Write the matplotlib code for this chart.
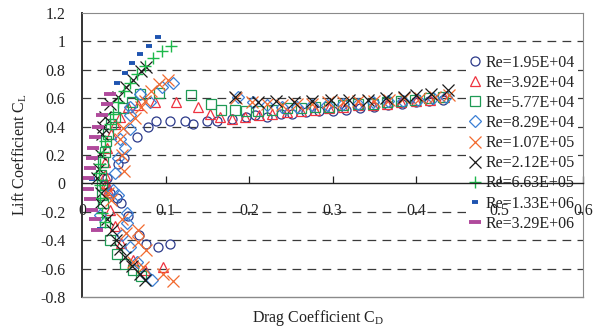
import matplotlib
matplotlib.use("Agg")
import matplotlib.pyplot as plt

plt.rcParams['font.family'] = ['Liberation Serif', 'DejaVu Serif']
plt.rcParams['mathtext.fontset'] = 'custom'
plt.rcParams['mathtext.rm'] = 'Liberation Serif'

labels = ["Re=1.95E+04", "Re=3.92E+04", "Re=5.77E+04", "Re=8.29E+04", "Re=1.07E+05",
          "Re=2.12E+05", "Re=6.63E+05", "Re=1.33E+06", "Re=3.29E+06"]

cd1 = [0.030, 0.043, 0.050, 0.066, 0.079, 0.089, 0.105, 0.123, 0.133, 0.150, 0.162,
       0.180, 0.196, 0.207, 0.222, 0.238, 0.252, 0.268, 0.284, 0.300, 0.316, 0.333, 0.350,
       0.366, 0.383, 0.400, 0.416, 0.432,
       0.026, 0.034, 0.042, 0.047, 0.055, 0.068, 0.077, 0.091, 0.105]
cl1 = [0.04, 0.14, 0.18, 0.33, 0.40, 0.44, 0.44, 0.44, 0.42, 0.44, 0.44,
       0.45, 0.47, 0.48, 0.47, 0.49, 0.49, 0.50, 0.51, 0.51, 0.52, 0.53, 0.54,
       0.55, 0.56, 0.57, 0.58, 0.59,
       -0.01, -0.07, -0.10, -0.14, -0.23, -0.36, -0.43, -0.45, -0.43]

cd2 = [0.029, 0.028, 0.027, 0.030, 0.035, 0.039, 0.045, 0.055, 0.067, 0.087, 0.113,
       0.139, 0.153, 0.165, 0.180, 0.195, 0.212, 0.228, 0.245, 0.262, 0.279, 0.296, 0.313,
       0.330, 0.348, 0.365, 0.382, 0.400, 0.417, 0.433,
       0.030, 0.031, 0.034, 0.040, 0.047, 0.061, 0.075, 0.097]
cl2 = [0.00, 0.06, 0.15, 0.25, 0.35, 0.42, 0.47, 0.54, 0.55, 0.57, 0.57,
       0.54, 0.49, 0.47, 0.45, 0.47, 0.48, 0.49, 0.50, 0.51, 0.52, 0.53, 0.54,
       0.55, 0.55, 0.56, 0.57, 0.58, 0.59, 0.61,
       -0.01, -0.05, -0.19, -0.30, -0.42, -0.54, -0.61, -0.59]

cd3 = [0.023, 0.025, 0.027, 0.029, 0.031, 0.035, 0.040, 0.049, 0.060, 0.069, 0.092,
       0.131, 0.154, 0.166, 0.183, 0.196, 0.211, 0.228, 0.245, 0.262, 0.279, 0.296, 0.313,
       0.330, 0.348, 0.365, 0.382, 0.399, 0.416, 0.432,
       0.024, 0.024, 0.025, 0.028, 0.033, 0.042, 0.051, 0.061, 0.071]
cl3 = [0.06, 0.15, 0.22, 0.30, 0.35, 0.42, 0.47, 0.53, 0.57, 0.63, 0.64,
       0.62, 0.56, 0.52, 0.52, 0.51, 0.51, 0.52, 0.53, 0.53, 0.54, 0.54, 0.55,
       0.56, 0.56, 0.57, 0.58, 0.59, 0.60, 0.61,
       -0.01, -0.08, -0.14, -0.27, -0.40, -0.50, -0.57, -0.61, -0.65]

cd4 = [0.040, 0.043, 0.045, 0.051, 0.058, 0.058, 0.058, 0.070, 0.081, 0.096, 0.109,
       0.187, 0.205, 0.222, 0.240, 0.258, 0.276, 0.294, 0.312, 0.330, 0.348, 0.366, 0.384,
       0.402, 0.420, 0.436,
       0.037, 0.043, 0.022, 0.054, 0.054, 0.048, 0.057, 0.066, 0.075, 0.084]
cl4 = [0.07, 0.18, 0.31, 0.25, 0.38, 0.48, 0.54, 0.63, 0.57, 0.68, 0.71,
       0.61, 0.57, 0.55, 0.54, 0.54, 0.55, 0.55, 0.56, 0.56, 0.57, 0.58, 0.58,
       0.59, 0.60, 0.61,
       -0.05, -0.08, -0.22, -0.21, -0.28, -0.36, -0.45, -0.55, -0.64, -0.68]

cd5 = [0.050, 0.048, 0.045, 0.049, 0.063, 0.071, 0.076, 0.083, 0.092, 0.103,
       0.185, 0.203, 0.221, 0.240, 0.258, 0.276, 0.295, 0.313, 0.331, 0.350, 0.368, 0.386,
       0.405, 0.423, 0.440,
       0.031, 0.035, 0.048, 0.053, 0.067, 0.067, 0.077, 0.061, 0.073, 0.097, 0.109]
cl5 = [0.09, 0.20, 0.31, 0.39, 0.46, 0.54, 0.58, 0.65, 0.70, 0.73,
       0.60, 0.57, 0.56, 0.55, 0.56, 0.56, 0.57, 0.57, 0.58, 0.58, 0.59, 0.60,
       0.60, 0.61, 0.62,
       -0.07, -0.12, -0.25, -0.35, -0.33, -0.41, -0.47, -0.55, -0.59, -0.64, -0.69]

cd6 = [0.018, 0.020, 0.022, 0.024, 0.025, 0.027, 0.034, 0.043, 0.053, 0.061, 0.071, 0.077,
       0.183, 0.211, 0.232, 0.254, 0.276, 0.298, 0.320, 0.342, 0.364, 0.386, 0.400, 0.418,
       0.438,
       0.023, 0.022, 0.030, 0.036, 0.041, 0.045, 0.051, 0.060, 0.069, 0.076]
cl6 = [0.035, 0.10, 0.21, 0.35, 0.40, 0.47, 0.56, 0.61, 0.68, 0.73, 0.79, 0.82,
       0.61, 0.57, 0.58, 0.57, 0.58, 0.59, 0.59, 0.59, 0.60, 0.61, 0.62, 0.63,
       0.66,
       -0.07, -0.14, -0.25, -0.33, -0.40, -0.46, -0.52, -0.58, -0.64, -0.68]

cd7 = [0.020, 0.022, 0.025, 0.028, 0.034, 0.037, 0.043, 0.050, 0.057, 0.066, 0.075,
       0.085, 0.096, 0.107,
       0.022, 0.021, 0.024, 0.028]
cl7 = [0.07, 0.14, 0.22, 0.30, 0.42, 0.49, 0.57, 0.65, 0.71, 0.77, 0.83,
       0.88, 0.93, 0.965,
       -0.01, -0.10, -0.21, -0.27]

cd8 = [0.012, 0.042, 0.051, 0.060, 0.070, 0.080, 0.091, 0.022]
cl8 = [0.03, 0.71, 0.78, 0.85, 0.91, 0.97, 1.03, -0.32]

cd9 = [0.007, 0.010, 0.012, 0.013, 0.016, 0.019, 0.024, 0.030, 0.034,
       0.007, 0.010, 0.012, 0.016, 0.018]
cl9 = [0.04, 0.11, 0.18, 0.25, 0.33, 0.40, 0.48, 0.56, 0.63,
       -0.04, -0.11, -0.19, -0.25, -0.33]

xs = [cd1, cd2, cd3, cd4, cd5, cd6, cd7, cd8, cd9]
ys = [cl1, cl2, cl3, cl4, cl5, cl6, cl7, cl8, cl9]

styles = [
    dict(marker='o', ms=6.5, mfc='none', mec='#2c3a8a', mew=0.9),
    dict(marker='^', ms=7.5, mfc='none', mec='#ee3340', mew=0.9),
    dict(marker='s', ms=7.5, mfc='none', mec='#1f9a55', mew=0.9),
    dict(marker='D', ms=6.0, mfc='none', mec='#3a7fd5', mew=0.9),
    dict(marker='x', ms=8.0, mec='#f26a2e', mew=0.9),
    dict(marker='x', ms=8.0, mec='#1a1a1a', mew=0.9),
    dict(marker='+', ms=8.5, mec='#1cb84a', mew=1.0),
    dict(marker='_', ms=5.0, mec='#1f54b0', mew=2.8),
    dict(marker='_', ms=8.0, mec='#b04a9c', mew=2.8),
]

fig = plt.figure(figsize=(6.06, 3.31), dpi=100)
ax = fig.add_axes([82/606, 1-297/331, (583-82)/606, (297-13)/331])

for v in [-0.6, -0.4, -0.2, 0.2, 0.4, 0.6, 0.8, 1.0]:
    ax.axhline(v, color='#3a3a3a', lw=0.9, ls=(0, (7, 5)), zorder=0.5)

for x, y, lab, st in zip(xs, ys, labels, styles):
    ax.plot(x, y, ls='none', label=lab, zorder=2, **st)

ax.set_xlim(0, 0.6)
ax.set_ylim(-0.8, 1.2)
ax.set_xticks([0, 0.1, 0.2, 0.3, 0.4, 0.5, 0.6])
ax.set_xticklabels(['0', '0.1', '0.2', '0.3', '0.4', '0.5', '0.6'])
ax.set_yticks([-0.8, -0.6, -0.4, -0.2, 0, 0.2, 0.4, 0.6, 0.8, 1.0, 1.2])
ax.set_yticklabels(['-0.8', '-0.6', '-0.4', '-0.2', '0', '0.2', '0.4', '0.6', '0.8', '1', '1.2'])

ax.spines['bottom'].set_position(('data', 0))
ax.spines['bottom'].set_color('#222222')
ax.spines['bottom'].set_linewidth(1.0)
ax.spines['left'].set_color('#333333')
ax.spines['left'].set_linewidth(1.4)
ax.spines['top'].set_color('#8a8a8a')
ax.spines['right'].set_color('#8a8a8a')
ax.plot([0, 1], [0, 0], transform=ax.transAxes, color='#8a8a8a', lw=1.0, clip_on=False, zorder=3)

ax.tick_params(axis='x', direction='in', length=5, width=0.9, pad=14, labelsize=11.5, colors='#222222')
ax.tick_params(axis='y', length=0, pad=12, labelsize=11.5, colors='#222222')

fig.text(20/606, 1-155/331, 'Lift Coefficient C$_\\mathregular{L}$', rotation=90,
         ha='center', va='center', fontsize=11.5, color='#222222')
fig.text(318/606, 1-318/331, 'Drag Coefficient C$_\\mathregular{D}$',
         ha='center', va='center', fontsize=11.5, color='#222222')

leg = ax.legend(loc='upper left', bbox_to_anchor=(0.766, 0.865), borderaxespad=0,
                frameon=True, facecolor='white', edgecolor='none', framealpha=1,
                fontsize=11.5, handlelength=0.7, handletextpad=0.35,
                labelspacing=0.26, borderpad=0.2, fancybox=False)
leg.set_zorder(1)
for t in leg.get_texts():
    t.set_color('#222222')

fig.savefig('out.png', dpi=100)
